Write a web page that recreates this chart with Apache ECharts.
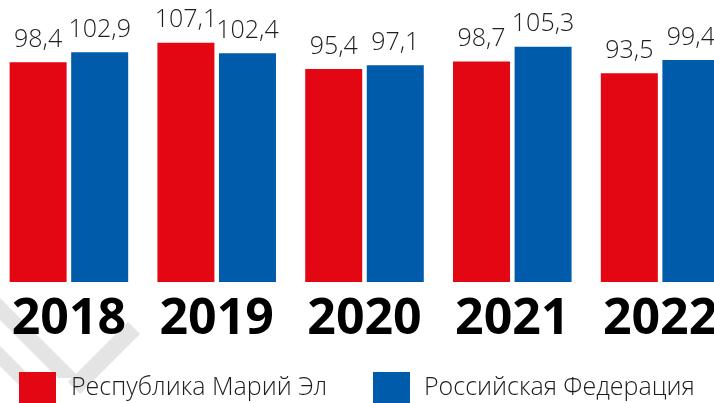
<!DOCTYPE html>
<html>
<head>
<meta charset="utf-8">
<script src="https://cdn.jsdelivr.net/npm/echarts@6/dist/echarts.min.js"></script>
<style>html,body{margin:0;padding:0;background:#fff}#c{width:714px;height:403px}</style>
</head>
<body>
<div id="c"></div>
<script>
const years = ['2018', '2019', '2020', '2021', '2022'];
const seriesNames = ['Республика Марий Эл', 'Российская Федерация'];
const mariEl = [98.4, 107.1, 95.4, 98.7, 93.5];
const russia = [102.9, 102.4, 97.1, 105.3, 99.4];

const RED = '#e30613', BLUE = '#005baa';
const fmt = p => String(p.value).replace('.', ',');
const valLabel = {
  show: true, position: 'top', distance: 10, formatter: fmt,
  fontFamily: 'Open Sans', fontWeight: 300, fontSize: 25, color: '#1e1e1e'
};

const chart = echarts.init(document.getElementById('c'), null, {renderer: 'canvas'});
chart.setOption({
  animation: false,
  backgroundColor: '#fff',
  graphic: [
    {type: 'polygon', silent: true, z: -10, shape: {points: [[0,298],[0,320],[58,378],[80,378]]}, style: {fill: '#e4e4e4'}},
    {type: 'polygon', silent: true, z: -10, shape: {points: [[0,346],[0,366],[37,403],[57,403]]}, style: {fill: '#e4e4e4'}},
    {type: 'polygon', silent: true, z: -10, shape: {points: [[128,322],[140,334],[80,394],[68,382]]}, style: {fill: '#e4e4e4'}}
  ],
  grid: {left: -5, right: -20, top: 14, bottom: 121, containLabel: false, outerBoundsMode: 'none'},
  xAxis: {
    type: 'category', data: years,
    axisLine: {show: false}, axisTick: {show: false},
    axisLabel: {interval: 0, hideOverlap: false, margin: 13, fontFamily: 'Open Sans', fontWeight: 'bold', fontSize: 50, lineHeight: 50, color: '#000'}
  },
  yAxis: {type: 'value', min: 0, max: 120, show: false, splitLine: {show: false}},
  legend: [
    {data: [seriesNames[0]], left: 19, top: 372, padding: 0, itemWidth: 37, itemHeight: 31, icon: 'rect',
     textStyle: {fontFamily: 'Open Sans', fontWeight: 300, fontSize: 25, color: '#1e1e1e', padding: [0,0,0,10]}},
    {data: [seriesNames[1]], left: 373, top: 372, padding: 0, itemWidth: 37, itemHeight: 31, icon: 'rect',
     textStyle: {fontFamily: 'Open Sans', fontWeight: 300, fontSize: 25, color: '#1e1e1e', padding: [0,0,0,9]}}
  ],
  series: [
    {name: seriesNames[0], type: 'bar', data: mariEl, barWidth: 57, barGap: '8%', itemStyle: {color: RED}, label: valLabel},
    {name: seriesNames[1], type: 'bar', data: russia, barWidth: 57, barGap: '8%', itemStyle: {color: BLUE}, label: valLabel}
  ]
});
</script>
</body>
</html>
